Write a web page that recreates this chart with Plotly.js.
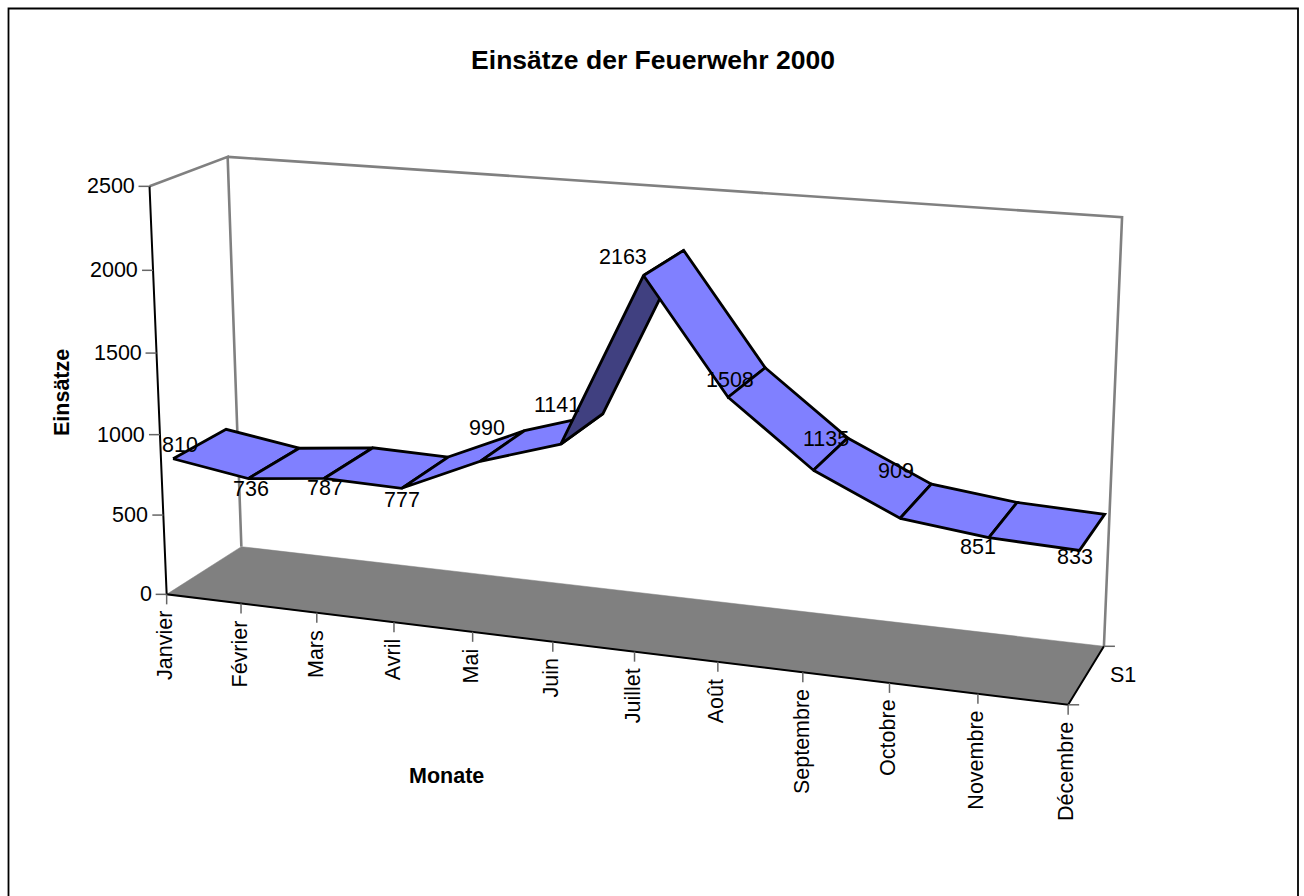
<!DOCTYPE html>
<html>
<head>
<meta charset="utf-8">
<script src="https://cdn.plot.ly/plotly-3.0.1.min.js"></script>
<style>html,body{margin:0;padding:0;background:#fff;overflow:hidden}</style>
</head>
<body>
<div id="chart" style="width:1304px;height:896px"></div>
<script>
// ---- chart data ----
const months = ['Janvier','Février','Mars','Avril','Mai','Juin','Juillet','Août','Septembre','Octobre','Novembre','Décembre'];
const einsaetze = [810,736,787,777,990,1141,2163,1508,1135,909,851,833];
const valueTicks = [0,500,1000,1500,2000,2500];
const seriesName = 'S1';
const chartTitle = 'Einsätze der Feuerwehr 2000';
const xTitle = 'Monate';
const yTitle = 'Einsätze';

// ---- styling / label placement (pixels relative to the projected point) ----
const labelShift = [[7,-14],[3,10],[1,10],[0,12],[7,-33],[-4,-39],[-21,-19],[2,-17],[13,-31],[-4,-47],[-11,9],[-5,7]];
const ribbonFront = 0.15, ribbonBack = 0.85;
const FONT = 'Liberation Sans, Arial, sans-serif';

// ---- perspective scale: fitted from the box corners and axis ticks ----
// [month index, depth 0..1, value, pageX, pageY]
const scaleAnchors = [
  [0,0,0,165.5,594],[11,0,0,1067.5,705],[0,1,0,241,547],[11,1,0,1104,646],
  [0,0,2500,149,186],[0,1,2500,228,157],[11,1,2500,1122,217],
  [0,0,500,163,516],[0,0,1000,160,434],[0,0,1500,157,353],[0,0,2000,153,271],
  [1,0,0,241,603],[2,0,0,318,612],[3,0,0,396,622],[4,0,0,472,632],[5,0,0,553,642],
  [6,0,0,634,652],[7,0,0,717,662],[8,0,0,802,672],[9,0,0,890,683],[10,0,0,979,694]
];
function solveScale(){
  const A=[],b=[];
  scaleAnchors.forEach(([u,v,w,x,y])=>{
    const U=u/11,W=w/2500,X=x/1000,Y=y/1000;
    A.push([U,v,W,1,0,0,0,0,-X*U,-X*v,-X*W]);b.push(X);
    A.push([0,0,0,0,U,v,W,1,-Y*U,-Y*v,-Y*W]);b.push(Y);
  });
  const n=11,M=[];
  for(let i=0;i<n;i++){M.push(new Array(n+1).fill(0));
    for(let j=0;j<n;j++)for(let r=0;r<A.length;r++)M[i][j]+=A[r][i]*A[r][j];
    for(let r=0;r<A.length;r++)M[i][n]+=A[r][i]*b[r];}
  for(let c=0;c<n;c++){let p=c;for(let r=c+1;r<n;r++)if(Math.abs(M[r][c])>Math.abs(M[p][c]))p=r;
    [M[c],M[p]]=[M[p],M[c]];
    for(let r=0;r<n;r++){if(r===c)continue;const f=M[r][c]/M[c][c];for(let k=c;k<=n;k++)M[r][k]-=f*M[c][k];}}
  return M.map((row,i)=>row[n]/row[i]);
}
const H=solveScale();
function proj(u,v,w){
  const U=u/11,W=w/2500,T=H[8]*U+H[9]*v+H[10]*W+1;
  return [1000*(H[0]*U+H[1]*v+H[2]*W+H[3])/T,1000*(H[4]*U+H[5]*v+H[6]*W+H[7])/T];
}
const last=months.length-1,maxValue=valueTicks[valueTicks.length-1];

function path(points,color,width,fill){
  const t={type:'scatter',mode:'lines',x:points.map(p=>p?p[0]:null),y:points.map(p=>p?p[1]:null),
    line:{color:color,width:width,simplify:false},hoverinfo:'skip',showlegend:false,connectgaps:false};
  if(fill){t.fill='toself';t.fillcolor=fill;}
  return t;
}
const traces=[];
// outer frame (its lower edge lies below the photographed page)
traces.push(path([[8.5,920],[8.5,8.5],[1298,8.5],[1298,920]],'#000',1.8));
// floor
traces.push(path([proj(0,0,0),proj(last,0,0),proj(last,1,0),proj(0,1,0),proj(0,0,0)],'#808080',0.5,'#808080'));
// walls
traces.push(path([proj(0,0,maxValue),proj(0,1,maxValue),proj(0,1,0)],'#808080',2.6));
traces.push(path([proj(0,1,maxValue),proj(last,1,maxValue),proj(last,1,0)],'#808080',2.6));
// axis lines
traces.push(path([proj(0,0,maxValue),proj(0,0,0),proj(last,0,0),proj(last,1,0)],'#000',2));
// ticks
const tickPts=[];
valueTicks.forEach(w=>{const p=proj(0,0,w);tickPts.push([p[0]-11,p[1]],p,null);});
months.forEach((m,i)=>{const p=proj(i,0,0);tickPts.push(p,[p[0],p[1]+10],null);});
[[last,1],[last,0]].forEach(([u,v])=>{const p=proj(u,v,0);tickPts.push(p,[p[0]+11,p[1]],null);});
traces.push(path(tickPts,'#666',1.5));
// ribbon, drawn from left to right
for(let i=0;i<last;i++){
  const a=proj(i,ribbonFront,einsaetze[i]),b=proj(i+1,ribbonFront,einsaetze[i+1]),
        c=proj(i+1,ribbonBack,einsaetze[i+1]),d=proj(i,ribbonBack,einsaetze[i]);
  const cross=(b[0]-a[0])*(c[1]-b[1])-(b[1]-a[1])*(c[0]-b[0]);
  traces.push(path([a,b,c,d,a],'#000',2.8,cross>0?'#404080':'#8080FF'));
}

const ann=[];
function txt(text,x,y,o){ann.push(Object.assign({text:text,x:x,y:y,xref:'x',yref:'y',showarrow:false,
  xanchor:'center',yanchor:'middle',font:{family:FONT,size:21.5,color:'#000'}},o||{}));}
valueTicks.forEach(w=>{const p=proj(0,0,w);txt(String(w),p[0]-13,p[1],{xanchor:'right'});});
months.forEach((m,i)=>{const p=proj(i,0,0);txt(m,p[0]-1.5,p[1]+15,{textangle:-90,yanchor:'top'});});
einsaetze.forEach((v,i)=>{const p=proj(i,ribbonFront,v);txt(String(v),p[0]+labelShift[i][0],p[1]+labelShift[i][1]);});
txt(seriesName,1123,675);
txt('<b>'+xTitle+'</b>',446,776);
txt('<b>'+yTitle+'</b>',62,393,{textangle:-90});

Plotly.newPlot('chart',traces,{
  width:1304,height:896,margin:{l:0,r:0,t:0,b:0},
  paper_bgcolor:'#fff',plot_bgcolor:'#fff',showlegend:false,
  title:{text:'<b>'+chartTitle+'</b>',x:653/1304,y:1-60/896,xanchor:'center',yanchor:'middle',
    font:{family:FONT,size:26.5,color:'#000'}},
  xaxis:{range:[0,1304],visible:false,fixedrange:true},
  yaxis:{range:[896,0],visible:false,fixedrange:true},
  annotations:ann
},{displayModeBar:false,staticPlot:true});
</script>
</body>
</html>
